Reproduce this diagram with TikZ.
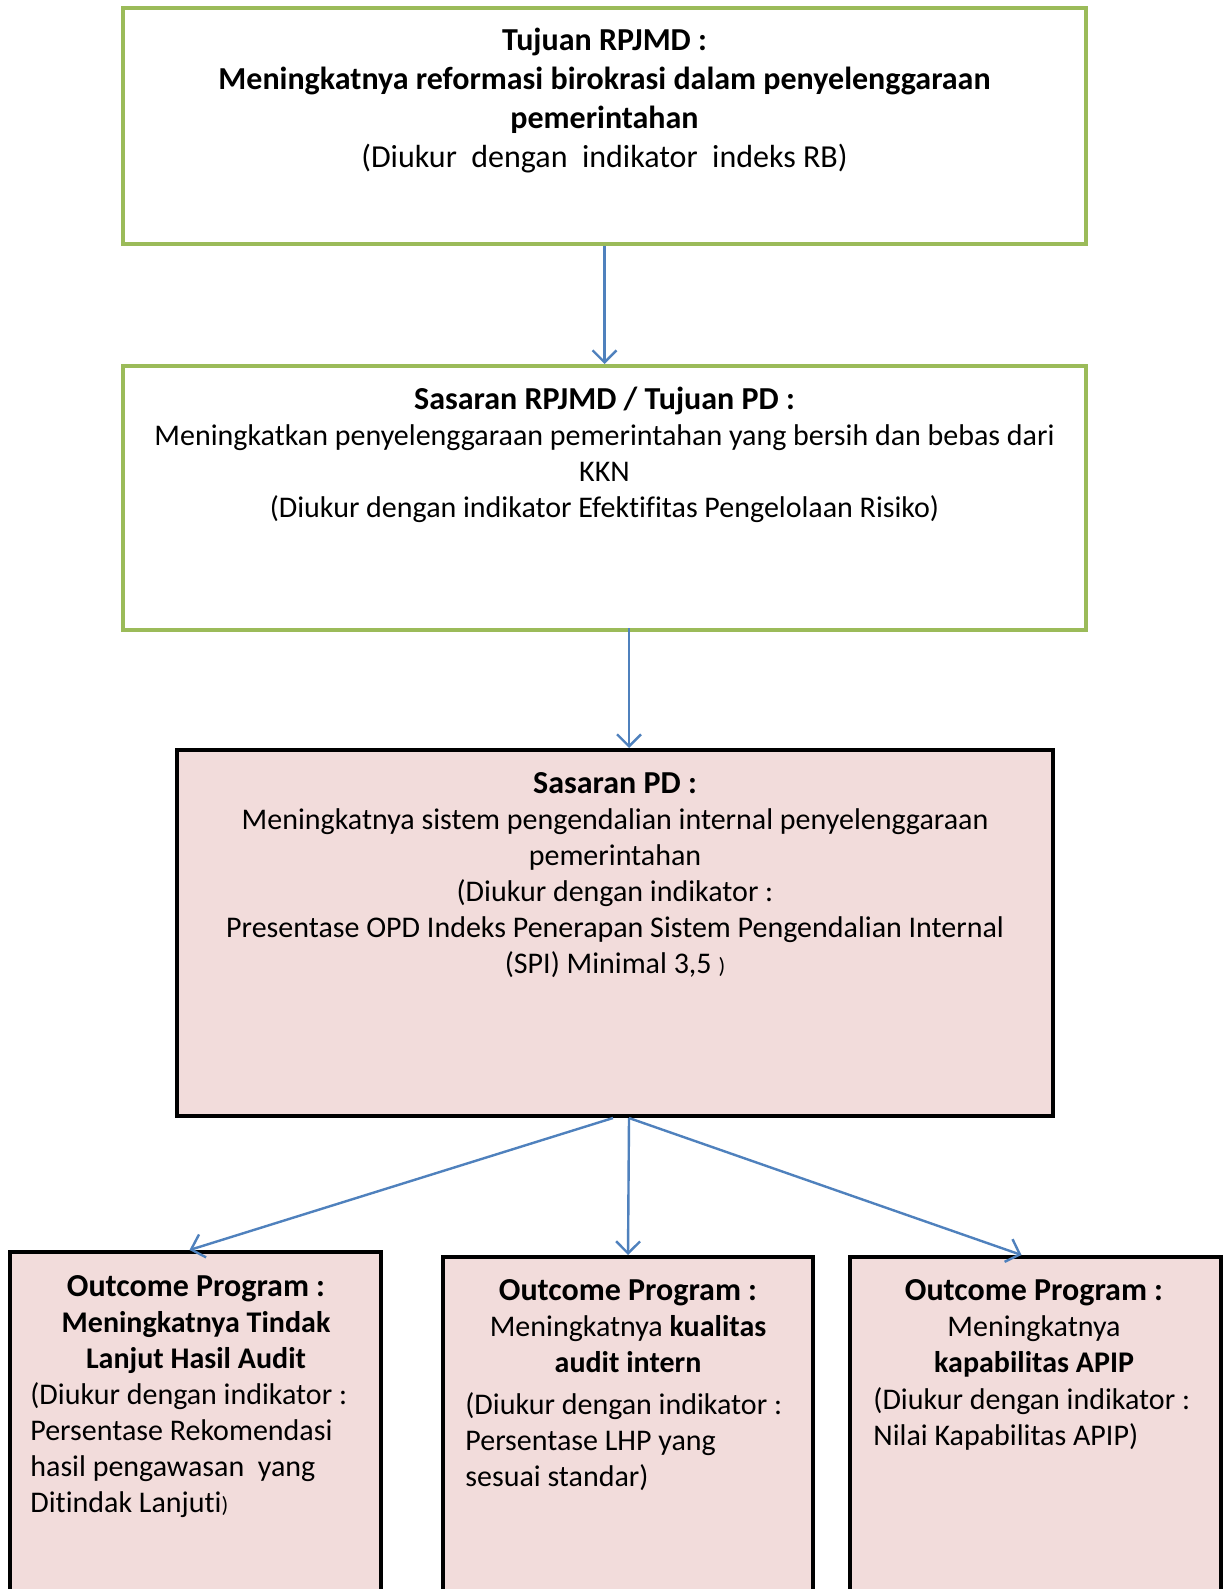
\documentclass[tikz,border=0pt]{standalone}
\usepackage{fontspec}
\setmainfont{Carlito}[Ligatures={NoCommon,NoContextual}]
\usetikzlibrary{arrows.meta,fit}
\definecolor{bordergreen}{HTML}{9BBB59}
\definecolor{pinkfill}{HTML}{F2DCDB}
\definecolor{arrowblue}{HTML}{4F81BD}
\newcommand{\ttl}[1]{{\fontsize{16}{18}\selectfont\bfseries #1}}
\begin{document}
\begin{tikzpicture}[x=0.5pt,y=-0.5pt,
 greenbox/.style={draw=bordergreen,line width=2pt,inner sep=0pt},
 pinkbox/.style={draw=black,fill=pinkfill,line width=2pt,inner sep=0pt},
 conn/.style={draw=arrowblue,line width=1.2pt,-{Straight Barb[length=6pt,width=12pt]}},
 txtA/.style={inner sep=0pt,anchor=north,align=center,font=\fontsize{16}{19.5}\selectfont},
 txtB/.style={inner sep=0pt,anchor=north,align=center,font=\fontsize{15}{18}\selectfont},
 txtL/.style={inner sep=0pt,anchor=north west,align=left,font=\fontsize{15}{18}\selectfont},
]
\useasboundingbox (0,0) rectangle (1228,1589);
\clip (0,0) rectangle (1228,1589);
\fill[white] (0,0) rectangle (1228,1589);

% boxes
\node[greenbox, fit={(123,8) (1086,244)}] (b1) {};
\node[greenbox, fit={(123,366) (1086,630)}] (b2) {};
\node[pinkbox, fit={(177,750) (1053,1116)}] (b3) {};
\node[pinkbox, fit={(10,1252) (381,1640)}] (o1) {};
\node[pinkbox, fit={(443,1257) (813,1640)}] (o2) {};
\node[pinkbox, fit={(850,1257) (1221,1640)}] (o3) {};

% texts
\node[txtA] (t1) at (604.5,23) {\strut\textbf{Tujuan RPJMD :}\\
\textbf{Meningkatnya reformasi birokrasi dalam penyelenggaraan}\\
\textbf{pemerintahan}\\
(Diukur\ \ dengan\ \ indikator\ \ indeks RB)};

\node[txtB] (t2) at (604.5,384) {\strut\ttl{Sasaran RPJMD / Tujuan PD :}\\
Meningkatkan penyelenggaraan pemerintahan yang bersih dan bebas dari\\
KKN\\
(Diukur dengan indikator Efektifitas Pengelolaan Risiko)};

\node[txtB] (t3) at (615,768) {\strut\ttl{Sasaran PD :}\\
Meningkatnya sistem pengendalian internal penyelenggaraan\\
pemerintahan\\
(Diukur dengan indikator :\\
Presentase OPD Indeks Penerapan Sistem Pengendalian Internal\\
(SPI) Minimal 3,5 {\fontsize{11}{18}\selectfont )}};

\node[txtB] (t4a) at (196,1271) {\strut\ttl{Outcome Program :}\\
\textbf{Meningkatnya Tindak}\\
\textbf{Lanjut Hasil Audit}};
\node[txtL] (t4b) at (30,1379) {\strut(Diukur dengan indikator :\\
Persentase Rekomendasi\\
hasil pengawasan\ \ yang\\
Ditindak Lanjuti{\fontsize{11}{18}\selectfont )}};

\node[txtB] (t5a) at (628,1275) {\strut\ttl{Outcome Program :}\\
Meningkatnya \textbf{kualitas}\\
\textbf{audit intern}};
\node[txtL] (t5b) at (465,1389) {\strut(Diukur dengan indikator :\\
Persentase LHP yang\\
sesuai standar)};

\node[txtB] (t6a) at (1034,1275) {\strut\ttl{Outcome Program :}\\
Meningkatnya\\
\textbf{kapabilitas APIP}};
\node[txtL] (t6b) at (873,1384) {\strut(Diukur dengan indikator :\\
Nilai Kapabilitas APIP)};

% connectors
\coordinate (x2) at (629,0);
\draw[conn] (b1.south) -- (b2.north);
\draw[conn] ([yshift=2pt]b2.south -| x2) -- (b3.north -| x2);
\draw[conn] ([xshift=-1pt]b3.south) -- ([xshift=-3pt]o1.north);
\draw[conn] ([xshift=7pt]b3.south) -- (o2.north);
\draw[conn] ([xshift=7pt]b3.south) -- ([xshift=-7pt]o3.north);
\end{tikzpicture}
\end{document}
